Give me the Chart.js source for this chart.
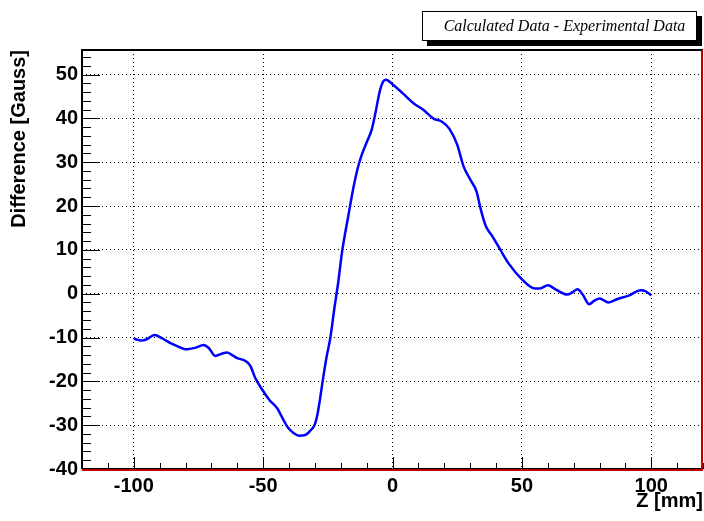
<!DOCTYPE html>
<html>
<head>
<meta charset="utf-8">
<script src="https://cdn.jsdelivr.net/npm/chart.js@4/dist/chart.umd.min.js"></script>
<style>
  html, body { margin: 0; padding: 0; background: #fff; }
  #wrap { width: 704px; height: 521px; }
</style>
</head>
<body>
<div id="wrap"><canvas id="diffChart" width="704" height="521"></canvas></div>
<script>
// data
const zValues = [
  -100, -97, -95, -92, -89, -86, -83, -80, -76, -73, -71, -68.5, -66, -64, -62, -60,
  -57, -55, -53, -50, -47.5, -44.5, -42.5, -40.5, -38, -36, -34, -32, -30, -29,
  -28, -27, -25.5, -24, -22.5, -21, -19.5, -17, -15, -13.5, -12, -10, -8, -6.5, -5, -3.5, -2.5,
  0, 4, 8, 12, 16, 19, 22, 25, 27.5, 30, 32.5, 34, 36, 38.5, 41.5, 45, 50, 55, 57,
  60, 63, 67.5, 69.5, 71.5, 73.5, 76, 78, 80, 83.5, 87, 91.5, 94, 96, 98, 100
];
const diffValues = [
  -10.3, -10.7, -10.4, -9.4, -10.2, -11.2, -12.0, -12.7, -12.3, -11.7, -12.4, -14.2, -13.7, -13.4, -14.0, -14.7,
  -15.3, -16.4, -19.3, -22.2, -24.3, -26.2, -28.4, -30.5, -31.9, -32.4, -32.3, -31.4, -29.8, -27.5,
  -24, -20, -14.5, -10, -3.5, 2.5, 9.5, 18, 24.5, 28.5, 31.5, 34.5, 37.5, 41.5, 46, 48.5, 48.8,
  47.8, 45.7, 43.5, 41.9, 39.9, 39.3, 37.6, 34.0, 29, 26.1, 23.3, 19.5, 15.5, 13.2, 10.2, 6.8, 3.3, 1.2, 1.2,
  1.9, 1.0, -0.2, 0.3, 1.0, -0.2, -2.4, -1.6, -1.1, -2.0, -1.2, -0.4, 0.4, 0.8, 0.5, -0.4
];
const xTicks = [-100, -50, 0, 50, 100];
const yTicks = [-40, -30, -20, -10, 0, 10, 20, 30, 40, 50];

const titleText = "Calculated Data - Experimental Data";

// ROOT style frame, minor ticks and title box
const rootFrame = {
  id: "rootFrame",
  beforeDraw(chart) {
    const ctx = chart.ctx;
    ctx.save();
    ctx.fillStyle = "#fff";
    ctx.fillRect(0, 0, chart.width, chart.height);
    ctx.restore();
  },
  afterDraw(chart) {
    const { ctx, chartArea: a, scales } = chart;
    const x = scales.x, y = scales.y;
    ctx.save();
    ctx.strokeStyle = "#000";
    ctx.lineWidth = 1;

    // y ticks (major every 10, minor every 2)
    ctx.beginPath();
    for (let v = -40; v <= 54; v += 2) {
      const py = Math.round(y.getPixelForValue(v)) + 0.5;
      const len = v % 10 === 0 ? 18 : 9;
      ctx.moveTo(a.left, py);
      ctx.lineTo(a.left + len, py);
    }
    // x ticks (major every 50, minor every 10)
    for (let v = -120; v <= 120; v += 10) {
      const px = Math.round(x.getPixelForValue(v)) + 0.5;
      const len = v % 50 === 0 ? 12 : 6;
      ctx.moveTo(px, a.bottom);
      ctx.lineTo(px, a.bottom - len);
    }
    ctx.stroke();

    // frame
    ctx.lineWidth = 2;
    ctx.beginPath();
    ctx.moveTo(a.left, a.bottom);
    ctx.lineTo(a.left, a.top);
    ctx.lineTo(a.right, a.top);
    ctx.stroke();
    ctx.lineWidth = 1;
    ctx.beginPath();
    ctx.moveTo(a.left, a.bottom - 0.5);
    ctx.lineTo(a.right, a.bottom - 0.5);
    ctx.stroke();
    ctx.strokeStyle = "#c00000";
    ctx.lineWidth = 2;
    ctx.beginPath();
    ctx.moveTo(a.left, a.bottom + 1);
    ctx.lineTo(a.right - 1, a.bottom + 1);
    ctx.lineTo(a.right - 1, a.top);
    ctx.stroke();

    // title box with shadow
    const bx = 422, by = 11, bw = 275, bh = 30;
    ctx.fillStyle = "#000";
    ctx.fillRect(bx + 5, by + 5, bw, bh);
    ctx.fillStyle = "#fff";
    ctx.fillRect(bx, by, bw, bh);
    ctx.strokeStyle = "#000";
    ctx.lineWidth = 1;
    ctx.strokeRect(bx + 0.5, by + 0.5, bw - 1, bh - 1);
    ctx.fillStyle = "#000";
    ctx.font = "italic 16px 'Liberation Serif', 'DejaVu Serif', serif";
    ctx.textAlign = "center";
    ctx.textBaseline = "middle";
    ctx.fillText(titleText, bx + bw / 2 + 5, by + bh / 2 + 1);
    ctx.restore();
  }
};

const tickFont = { family: "'Liberation Sans', Arial, sans-serif", size: 20, weight: "bold" };

new Chart(document.getElementById("diffChart"), {
  type: "line",
  data: {
    datasets: [
      {
        label: "Difference",
        data: zValues.map((z, i) => ({ x: z, y: diffValues[i] })),
        borderColor: "#0000ff",
        borderWidth: 2.5,
        pointRadius: 0,
        fill: false,
        cubicInterpolationMode: "monotone",
      },
    ],
  },
  options: {
    responsive: false,
    animation: false,
    devicePixelRatio: 1,
    layout: { padding: { top: 50, right: 1, left: 0, bottom: 0 } },
    plugins: { legend: { display: false }, tooltip: { enabled: false } },
    scales: {
      x: {
        type: "linear",
        min: -120,
        max: 120,
        afterFit: (s) => { s.height = 52; },
        afterBuildTicks: (s) => { s.ticks = xTicks.map((v) => ({ value: v })); },
        grid: { color: "#000", lineWidth: 1, drawTicks: false },
        border: { display: false, dash: [1, 3] },
        ticks: { color: "#000", font: tickFont, padding: 5, maxRotation: 0 },
        title: {
          display: true,
          text: "Z [mm]",
          align: "end",
          color: "#000",
          font: tickFont,
          padding: { top: 0, bottom: 8 },
        },
      },
      y: {
        min: -40,
        max: 55.6,
        afterFit: (s) => { s.width = 82; },
        afterBuildTicks: (s) => { s.ticks = yTicks.map((v) => ({ value: v })); },
        grid: { color: "#000", lineWidth: 1, drawTicks: false },
        border: { display: false, dash: [1, 3] },
        ticks: { color: "#000", font: tickFont, padding: 4 },
        title: {
          display: true,
          text: "Difference [Gauss]",
          align: "end",
          color: "#000",
          font: tickFont,
          padding: { top: 7, bottom: 0 },
        },
      },
    },
  },
  plugins: [rootFrame],
});
</script>
</body>
</html>
